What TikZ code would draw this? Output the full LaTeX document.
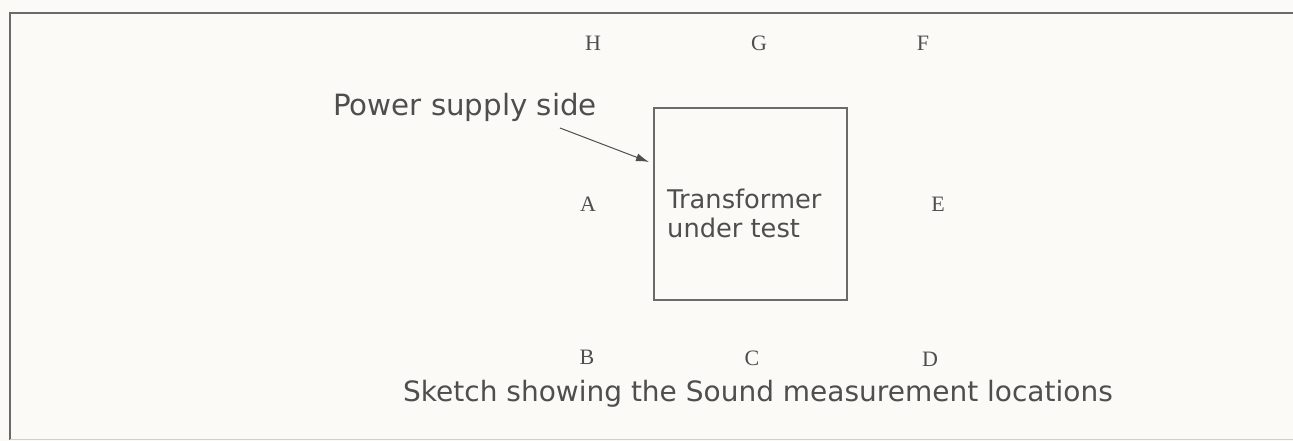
\documentclass[tikz,border=0pt]{standalone}
\usepackage{fontspec}
\setmainfont{Liberation Serif}
\newfontfamily\sketchsans{DejaVu Sans}
\usepackage{tikz}
\usetikzlibrary{arrows.meta, positioning}
\definecolor{paper}{HTML}{FCFAF7}
\definecolor{ink}{HTML}{4E4E4E}
\definecolor{frameline}{HTML}{6A6A6A}
\definecolor{softline}{HTML}{D8C8D8}

\begin{document}
\begin{tikzpicture}[
    x=1pt, y=-1pt,
    loc/.style={font=\fontsize{22}{25}\selectfont, text=ink, inner sep=0pt},
    note/.style={font=\sketchsans\fontsize{28}{33}\selectfont, text=ink, inner sep=0pt},
    unit/.style={draw=frameline, line width=1.1pt, minimum width=193pt,
        minimum height=192pt, inner sep=0pt},
    unittext/.style={font=\sketchsans\fontsize{25.7}{29}\selectfont, text=ink,
        inner sep=0pt, align=left},
    pointer/.style={-{Latex[length=13pt, width=8pt]}, line width=1pt, color=ink}
]

% =====================================================
% SHEET AND FRAME
% =====================================================
\fill[paper] (0,0) rectangle (1293,441);
\useasboundingbox (0,0) rectangle (1293,441);
\draw[frameline, line width=1.5pt] (1293,13) -- (10,13) -- (10,440);
\draw[softline, line width=1pt] (10,439) -- (1293,439);

% =====================================================
% TRANSFORMER
% =====================================================
\node[unit] (box) at (750.5,204) {};
\node[unittext, anchor=west] (boxtext) at (667,213) {Transformer\\under test};

% Supply side pointer
\node[note, font=\sketchsans\fontsize{29.3}{33}\selectfont, anchor=base] (supply) at (465,116) {Power supply side};
\coordinate (pointtail) at (560,128);
\coordinate (pointtip) at (649,162);
\draw[pointer] (pointtail) -- (pointtip);

% =====================================================
% MEASUREMENT LOCATIONS
% =====================================================
\node[loc] (locH) at (593,43) {H};
\node[loc] (locG) at (759,43) {G};
\node[loc] (locF) at (923,43) {F};
\node[loc] (locA) at (588,204) {A};
\node[loc] (locE) at (938,204) {E};
\node[loc] (locB) at (587,357) {B};
\node[loc] (locC) at (752,358) {C};
\node[loc] (locD) at (930,359) {D};

% Caption
\node[note, anchor=base] (caption) at (758,401) {Sketch showing the Sound measurement locations};

\end{tikzpicture}
\end{document}
